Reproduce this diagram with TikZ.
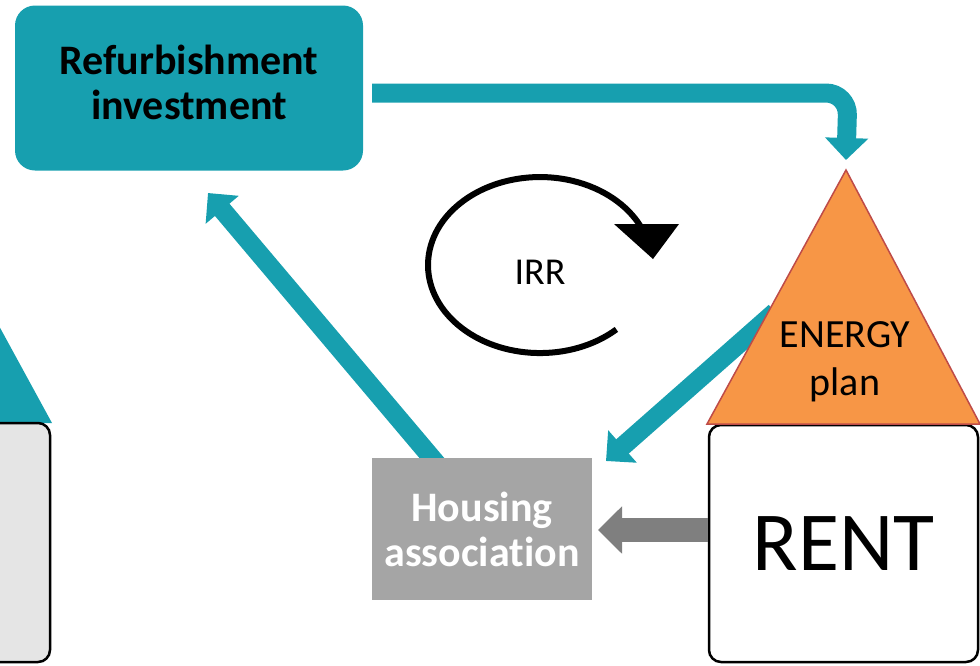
\documentclass[tikz,border=0pt]{standalone}
\usepackage{fontspec}
\setmainfont{Carlito}[Ligatures=CommonOff]
\usetikzlibrary{arrows.meta}
\definecolor{tealc}{RGB}{23,159,175}
\definecolor{grayhouse}{RGB}{165,165,165}
\definecolor{grayarr}{RGB}{127,127,127}
\definecolor{orangec}{RGB}{247,150,70}
\definecolor{redline}{RGB}{190,75,72}
\definecolor{lightbox}{RGB}{229,229,229}

\begin{document}
\begin{tikzpicture}[x=1pt,y=-1pt,
  refbox/.style={fill=tealc,rounded corners=20pt,minimum width=348pt,minimum height=165pt,align=center,inner sep=0pt,font=\bfseries\fontsize{42}{45}\selectfont},
  hsbox/.style={fill=grayhouse,minimum width=220pt,minimum height=142pt,align=center,inner sep=0pt,text=white,font=\bfseries\fontsize{42}{45}\selectfont},
  rentbox/.style={draw,fill=white,line width=2.5pt,rounded corners=12pt,minimum width=269pt,minimum height=237pt,inner sep=0pt,font=\fontsize{84}{90}\selectfont},
  tealarr/.style={draw=tealc,line width=19pt,-{Triangle[width=42pt 0,length=22pt 0]}},
  grayarr/.style={draw=grayarr,line width=24pt,-{Triangle[width=46pt 0,length=24pt 0]}}]
\useasboundingbox (0,0) rectangle (980,665);
\clip (0,0) rectangle (980,665);

% house at the left edge
\fill[tealc] (-222,423) -- (-86,170) -- (52,423) -- cycle;
\draw[fill=lightbox,line width=2.5pt,rounded corners=12pt] (-220,423) rectangle (50,662);

\coordinate (apex) at (846,170);
\coordinate (turn) at (848,93);
\coordinate (enstart) at (775,312);
\coordinate (hsstart) at (442,470);

\node[refbox] at (189,88) (refurb) {\raisebox{2pt}{\begin{tabular}{@{}c@{}}Refurbishment\\investment\end{tabular}}};
\node[rentbox] at (843.5,543.5) (rent) {RENT};

\draw[tealarr,rounded corners=22pt,shorten <=9pt] (refurb.east |- turn) -- (turn) -- ([yshift=10pt]apex);
\draw[tealarr] (enstart) -- (606,461);
\draw[tealarr] (hsstart) -- (208,193);
\draw[grayarr] ([yshift=13.5pt]rent.west) -- (598,530);

\node[hsbox] at (482,529) (housing) {Housing\\association};

\fill[orangec,draw=redline,line width=1.5pt,line join=miter] (apex) -- (980,424) -- (707,424) -- cycle;
\node[align=center,font=\fontsize{40}{48}\selectfont] at (845,362) (energy) {ENERGY\\plan};

\node[font=\fontsize{38}{40}\selectfont] at (540,272) (irr) {IRR};
\draw[line width=6pt] (616.4,329.4) arc[start angle=47,end angle=334,x radius=112,y radius=88];
\fill (614,224) -- (679,224) -- (653,259) -- cycle;
\end{tikzpicture}
\end{document}
